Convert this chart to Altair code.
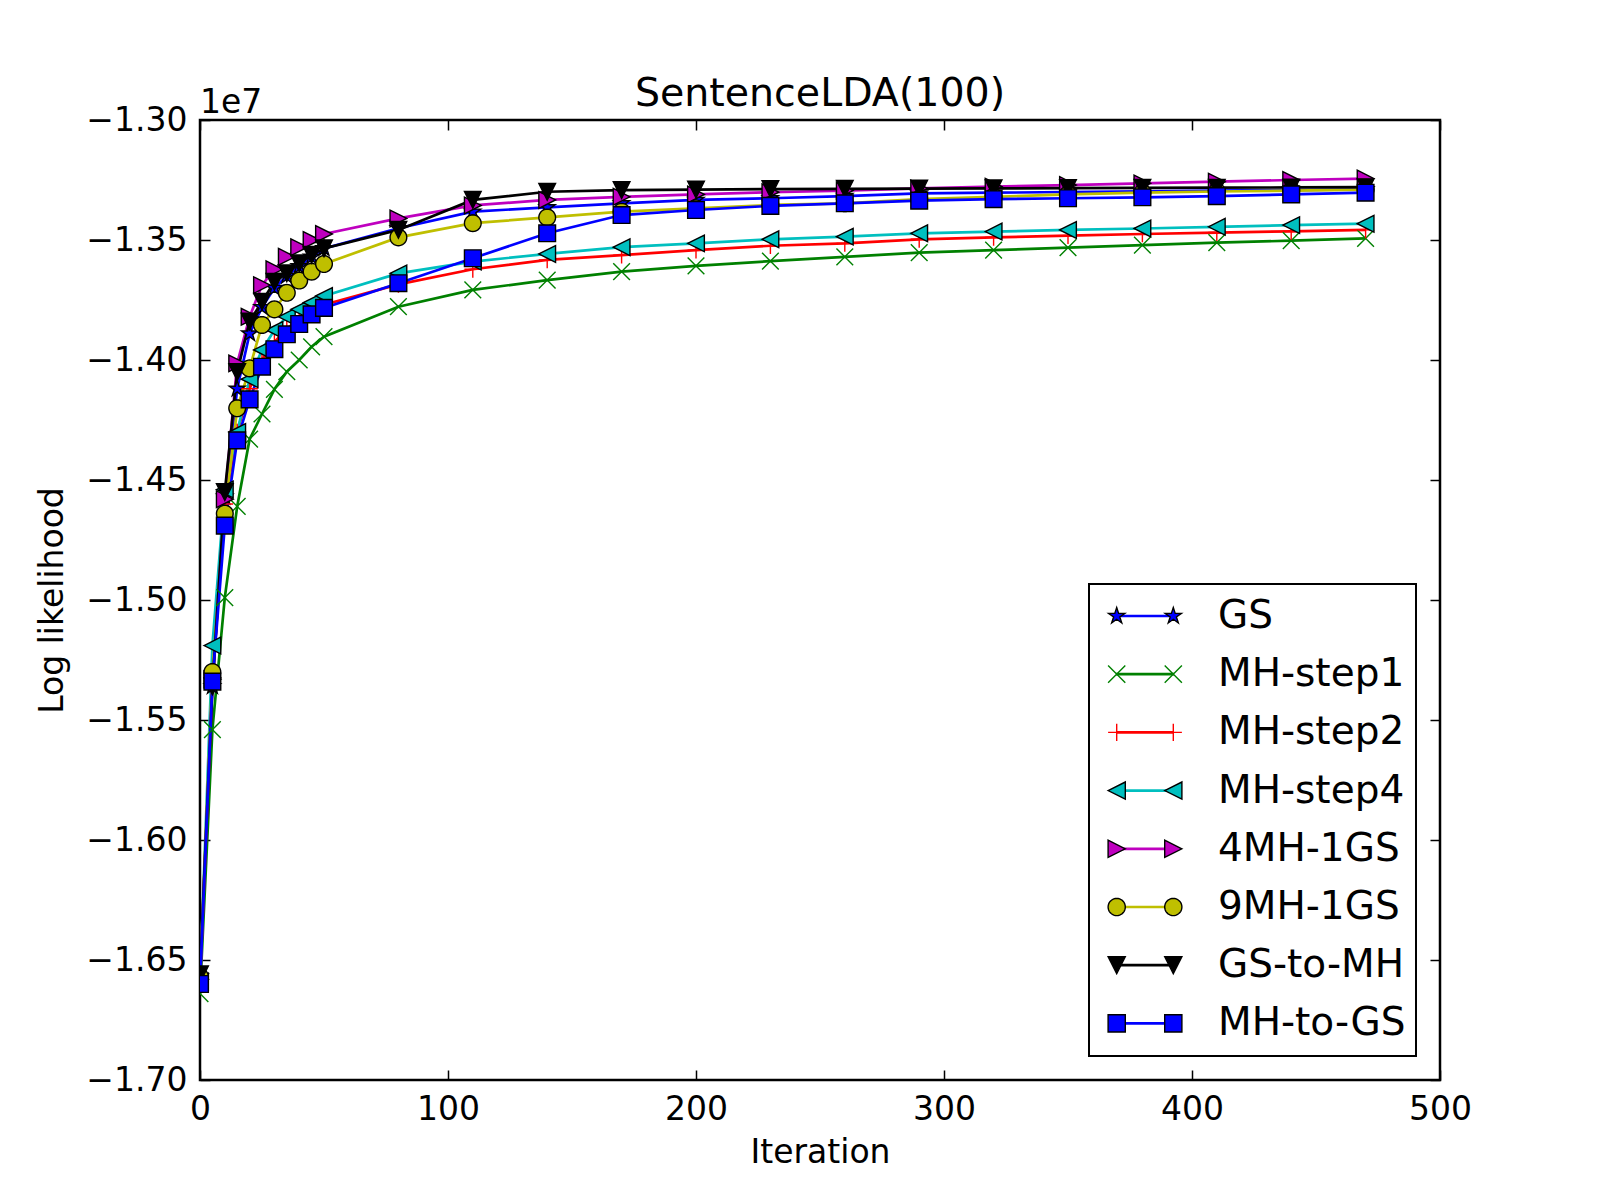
import math
import altair as alt
import pandas as pd

# ---------------- data (log likelihood, in units of 1e7) ----------------
iterations = [0, 5, 10, 15, 20, 25, 30, 35, 40, 45, 50, 80, 110, 140, 170,
              200, 230, 260, 290, 320, 350, 380, 410, 440, 470]

series_names = ["GS", "MH-step1", "MH-step2", "MH-step4",
                "4MH-1GS", "9MH-1GS", "GS-to-MH", "MH-to-GS"]

gs = [-1.657, -1.536, -1.457, -1.412, -1.389, -1.378, -1.370, -1.365, -1.361,
      -1.357, -1.3535, -1.3451, -1.3382, -1.3364, -1.3347, -1.3333, -1.3326,
      -1.3317, -1.3306, -1.3303, -1.3300, -1.3297, -1.3294, -1.3292, -1.3289]
mh_step1 = [-1.664, -1.554, -1.499, -1.461, -1.433, -1.4225, -1.4122, -1.4049,
            -1.4000, -1.3945, -1.3903, -1.3778, -1.3708, -1.3667, -1.3632,
            -1.3608, -1.3588, -1.3570, -1.3553, -1.3542, -1.3532, -1.3521,
            -1.3511, -1.3503, -1.3493]
mh_step2 = [-1.659, -1.535, -1.460, -1.430, -1.412, -1.400, -1.3925, -1.387,
            -1.383, -1.3795, -1.377, -1.3685, -1.3622, -1.3583, -1.3563,
            -1.3542, -1.3524, -1.3514, -1.3497, -1.3489, -1.3482, -1.3475,
            -1.3469, -1.3464, -1.3458]
mh_step4 = [-1.659, -1.519, -1.454, -1.430, -1.408, -1.3958, -1.3875, -1.382,
            -1.3789, -1.3761, -1.3733, -1.3639, -1.3590, -1.3558, -1.3530,
            -1.3514, -1.3497, -1.3486, -1.3472, -1.3465, -1.3458, -1.3452,
            -1.3445, -1.3438, -1.3432]
mh4_1gs = [-1.658, -1.533, -1.458, -1.4014, -1.382, -1.3688, -1.3622, -1.357,
           -1.353, -1.350, -1.3475, -1.341, -1.3356, -1.3333, -1.3320, -1.3310,
           -1.3301, -1.3294, -1.3285, -1.3278, -1.3271, -1.3264, -1.3257,
           -1.3250, -1.3244]
mh9_1gs = [-1.657, -1.530, -1.464, -1.4201, -1.4035, -1.3854, -1.3789, -1.372,
           -1.3669, -1.3632, -1.3600, -1.3489, -1.3430, -1.3406, -1.3382,
           -1.3368, -1.3354, -1.3347, -1.3330, -1.3320, -1.3310, -1.3303,
           -1.3298, -1.3294, -1.3290]
gs_to_mh = [-1.656, -1.536, -1.455, -1.405, -1.384, -1.3757, -1.3674, -1.3639,
            -1.3597, -1.3562, -1.3535, -1.3458, -1.3333, -1.3299, -1.3292,
            -1.3290, -1.3288, -1.3287, -1.3286, -1.3285, -1.3284, -1.3283,
            -1.3282, -1.3281, -1.3280]
mh_to_gs = [-1.660, -1.534, -1.469, -1.4335, -1.4164, -1.4028, -1.3955, -1.3893,
            -1.3850, -1.3810, -1.3783, -1.3680, -1.3576, -1.3472, -1.3396,
            -1.3375, -1.3358, -1.3347, -1.3336, -1.3330, -1.3326, -1.3322,
            -1.3317, -1.3310, -1.3303]

series_values = [gs, mh_step1, mh_step2, mh_step4, mh4_1gs, mh9_1gs, gs_to_mh, mh_to_gs]

x_ticks = [0, 100, 200, 300, 400, 500]
y_ticks = [-1.70, -1.65, -1.60, -1.55, -1.50, -1.45, -1.40, -1.35, -1.30]

# ---------------- styles ----------------
line_colors = ["#0000ff", "#008000", "#ff0000", "#00bfbf",
               "#bf00bf", "#bfbf00", "#000000", "#0000ff"]
fill_colors = ["#0000ff", "transparent", "transparent", "#00bfbf",
               "#bf00bf", "#bfbf00", "#000000", "#0000ff"]
edge_colors = ["#000000", "#008000", "#ff0000", "#000000",
               "#000000", "#000000", "#000000", "#000000"]

FONT = "DejaVu Sans"

# marker outlines in unit coordinates, as (points, closed)
star_pts = []
for k in range(10):
    r = 1.0 if k % 2 == 0 else 0.381966
    a = math.radians(-90 + 36 * k)
    star_pts.append((r * math.cos(a), r * math.sin(a)))
circle_pts = [(math.cos(2 * math.pi * k / 36), math.sin(2 * math.pi * k / 36)) for k in range(36)]

shape_defs = [
    [(star_pts, True)],                                        # *
    [([(-1, -1), (1, 1)], False), ([(-1, 1), (1, -1)], False)],  # x
    [([(-1, 0), (1, 0)], False), ([(0, -1), (0, 1)], False)],    # +
    [([(-1, 0), (1, -1), (1, 1)], True)],                      # <
    [([(1, 0), (-1, -1), (-1, 1)], True)],                     # >
    [(circle_pts, True)],                                      # o
    [([(-1, -1), (1, -1), (0, 1)], True)],                     # v
    [([(-1, -1), (1, -1), (1, 1), (-1, 1)], True)],            # s
]


def path_of(subpaths, scale=1.0, dx=0.0):
    parts = []
    for pts, closed in subpaths:
        s = "M" + "L".join(f"{x * scale + dx:.4f},{y * scale:.4f}" for x, y in pts)
        if closed:
            s += "Z"
        parts.append(s)
    return "".join(parts)


marker_paths = [path_of(s) for s in shape_defs]
LEG_SIZE = 59 * 59
leg_r = 8.6 / 29.5
leg_dx = 28.3 / 29.5
legend_paths = [path_of(s, leg_r, -leg_dx) + path_of(s, leg_r, leg_dx) for s in shape_defs]

rows = []
for name, vals in zip(series_names, series_values):
    for it, v in zip(iterations, vals):
        rows.append({"series": name, "iteration": it, "loglik": v})
df = pd.DataFrame(rows)

xscale = alt.Scale(domain=[0, 500], nice=False, zero=False)
yscale = alt.Scale(domain=[-1.70, -1.30], nice=False, zero=False)

axis_common = dict(offset=-10, tickSize=10, tickWidth=1.5, tickColor="black",
                   domain=False, grid=False, labelOverlap=False, labelFlush=False)

bottom_axis = alt.Axis(orient="bottom", values=x_ticks, format="d",
                       labelPadding=13, labelFontSize=33, labelFont=FONT, labelColor="black",
                       title="Iteration", titleFontSize=33, titleFont=FONT,
                       titleFontWeight="normal", titleColor="black", titlePadding=10,
                       **axis_common)
left_axis = alt.Axis(orient="left", values=y_ticks, format=".2f",
                     labelPadding=13, labelFontSize=33, labelFont=FONT, labelColor="black",
                     title="Log likelihood", titleFontSize=33, titleFont=FONT,
                     titleFontWeight="normal", titleColor="black", titlePadding=16,
                     **axis_common)
top_axis = alt.Axis(orient="top", values=x_ticks, labels=False, title=None, **axis_common)
right_axis = alt.Axis(orient="right", values=y_ticks, labels=False, title=None, **axis_common)

LEG_X, LEG_Y = 889, 464
legend_common = dict(orient="none", legendX=LEG_X, legendY=LEG_Y, title=None,
                     padding=10, rowPadding=14.2, clipHeight=44,
                     symbolOffset=15.5, labelOffset=42.5,
                     labelFontSize=39, labelFont=FONT, labelLimit=600)

legend_lines = alt.Legend(symbolType="stroke", symbolSize=3364, symbolStrokeWidth=2.7,
                          symbolOpacity=1, labelColor="black", strokeColor="black",
                          fillColor="white", cornerRadius=0, zindex=0, **legend_common)
legend_marks = alt.Legend(symbolSize=LEG_SIZE, symbolStrokeWidth=1.4, symbolOpacity=1,
                          labelOpacity=0, zindex=1, **legend_common)

lines = alt.Chart(df).mark_line(strokeWidth=2.7, clip=True).encode(
    x=alt.X("iteration:Q", scale=xscale, axis=bottom_axis),
    y=alt.Y("loglik:Q", scale=yscale, axis=left_axis),
    color=alt.Color("series:N", scale=alt.Scale(domain=series_names, range=line_colors),
                    legend=legend_lines),
)

points = alt.Chart(df).mark_point(filled=True, size=279, strokeWidth=1.4, opacity=1,
                                  clip=True).encode(
    x=alt.X("iteration:Q", scale=xscale, axis=top_axis),
    y=alt.Y("loglik:Q", scale=yscale, axis=right_axis),
    fill=alt.Fill("series:N", scale=alt.Scale(domain=series_names, range=fill_colors),
                  legend=None),
    stroke=alt.Stroke("series:N", scale=alt.Scale(domain=series_names, range=edge_colors),
                      legend=None),
    shape=alt.Shape("series:N", scale=alt.Scale(domain=series_names, range=marker_paths),
                    legend=None),
)

leg_names = [n + "\u200b" for n in series_names]
legend_layer = alt.Chart(df).transform_filter("false").mark_point(
    filled=True, size=LEG_SIZE, strokeWidth=1.4, opacity=1).encode(
    fill=alt.Fill("series:N", scale=alt.Scale(domain=leg_names, range=fill_colors),
                  legend=legend_marks),
    stroke=alt.Stroke("series:N", scale=alt.Scale(domain=leg_names, range=edge_colors),
                      legend=legend_marks),
    shape=alt.Shape("series:N", scale=alt.Scale(domain=leg_names, range=legend_paths),
                    legend=legend_marks),
)

offset_df = pd.DataFrame({"iteration": [0], "loglik": [-1.30], "t": ["1e7"]})
offset_text = alt.Chart(offset_df).mark_text(
    align="left", baseline="alphabetic", dy=-7, fontSize=33, font=FONT, color="black"
).encode(
    x=alt.X("iteration:Q", scale=xscale, axis=None),
    y=alt.Y("loglik:Q", scale=yscale, axis=None),
    text="t:N",
)

chart = alt.layer(lines, points, legend_layer, offset_text).resolve_scale(
    fill="independent", stroke="independent", shape="independent"
).resolve_axis(
    x="independent", y="independent"
).properties(
    width=1240, height=960,
    title=alt.TitleParams("SentenceLDA(100)", fontSize=39.5, font=FONT, fontWeight="normal",
                          anchor="middle", offset=-27, color="black"),
    autosize=alt.AutoSizeParams(type="none"),
    padding={"left": 192, "top": 112, "right": 140, "bottom": 100},
).configure(
    font=FONT
).configure_view(
    stroke="black", strokeWidth=2.5
).configure_legend(
    strokeWidth=2
)

chart.save("out.html", embed_options={"renderer": "svg", "actions": False})
